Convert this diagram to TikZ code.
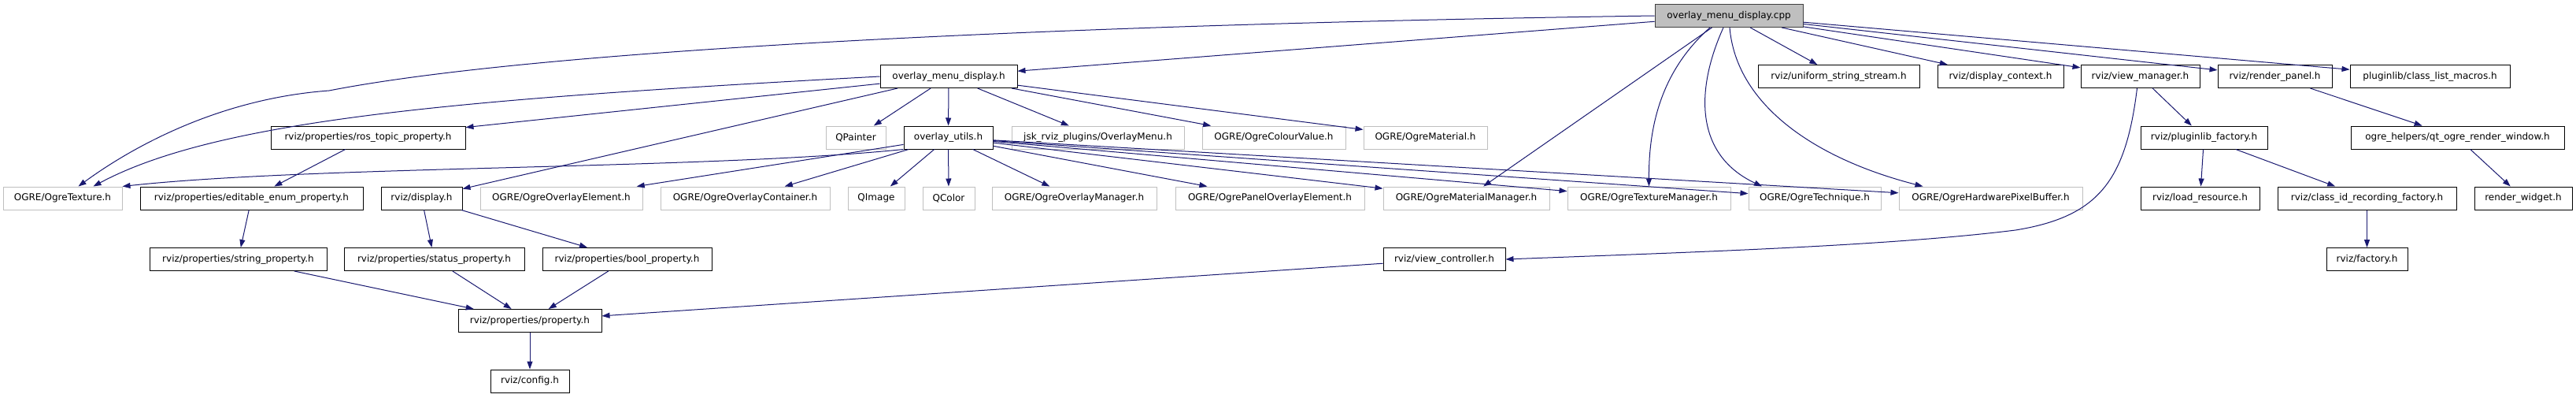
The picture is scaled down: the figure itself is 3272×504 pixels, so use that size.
\documentclass[tikz,border=0pt]{standalone}
\usepackage{fontspec}
\setmainfont{DejaVu Sans}
\usepackage{tikz}
\usetikzlibrary{arrows.meta}
\definecolor{edgeblue}{RGB}{25,25,112}

\begin{document}
\begin{tikzpicture}[x=1pt, y=-1pt,
        file/.style={rectangle, draw=black, line width=1pt, inner sep=0pt, minimum height=29pt, font=\fontsize{12}{14}\selectfont},
        extfile/.style={file, draw=gray!50},
        dep/.style={draw=edgeblue, line width=1pt, -{Triangle[length=10pt, width=7pt]}}]
        \useasboundingbox (0, 0) rectangle (3272, 504);
        % source file
        \node[file, fill=gray!50, draw=black!75, minimum width=188pt] (cpp) at (2196, 20) {overlay\_menu\_display.cpp};
        % row 2
        \node[file, minimum width=174pt] (menuh) at (1205, 97) {overlay\_menu\_display.h};
        \node[file, minimum width=205pt] (uss) at (2335.5, 97) {rviz/uniform\_string\_stream.h};
        \node[file, minimum width=160pt] (dctx) at (2541, 97) {rviz/display\_context.h};
        \node[file, minimum width=151pt] (vmgr) at (2718.5, 97) {rviz/view\_manager.h};
        \node[file, minimum width=145pt] (rpanel) at (2889.5, 97) {rviz/render\_panel.h};
        \node[file, minimum width=203pt] (clm) at (3086.5, 97) {pluginlib/class\_list\_macros.h};
        % row 3
        \node[file, minimum width=247pt] (rtp) at (467.5, 174.5) {rviz/properties/ros\_topic\_property.h};
        \node[extfile, minimum width=76pt] (qpainter) at (1087, 174.5) {QPainter};
        \node[file, minimum width=113pt] (utils) at (1204.5, 174.5) {overlay\_utils.h};
        \node[extfile, minimum width=219pt] (omenu) at (1394.5, 174.5) {jsk\_rviz\_plugins/OverlayMenu.h};
        \node[extfile, minimum width=182pt] (colval) at (1618, 174.5) {OGRE/OgreColourValue.h};
        \node[extfile, minimum width=157pt] (mat) at (1810.5, 174.5) {OGRE/OgreMaterial.h};
        \node[file, minimum width=161pt] (plfac) at (2799.5, 174.5) {rviz/pluginlib\_factory.h};
        \node[file, minimum width=271pt] (qorw) at (3121.5, 174.5) {ogre\_helpers/qt\_ogre\_render\_window.h};
        % row 4
        \node[extfile, minimum width=151pt] (tex) at (79.5, 251.5) {OGRE/OgreTexture.h};
        \node[file, minimum width=283pt] (eep) at (319.5, 251.5) {rviz/properties/editable\_enum\_property.h};
        \node[file, minimum width=103pt] (disp) at (535.5, 251.5) {rviz/display.h};
        \node[extfile, minimum width=206pt] (oel) at (713, 251.5) {OGRE/OgreOverlayElement.h};
        \node[extfile, minimum width=215pt] (ocont) at (946.5, 251.5) {OGRE/OgreOverlayContainer.h};
        \node[extfile, minimum width=72pt] (qimage) at (1113, 251.5) {QImage};
        \node[extfile, minimum width=66pt] (qcolor) at (1205, 251.5) {QColor};
        \node[extfile, minimum width=209pt] (omgr) at (1364.5, 251.5) {OGRE/OgreOverlayManager.h};
        \node[extfile, minimum width=240pt] (poe) at (1613, 251.5) {OGRE/OgrePanelOverlayElement.h};
        \node[extfile, minimum width=211pt] (matmgr) at (1862.5, 251.5) {OGRE/OgreMaterialManager.h};
        \node[extfile, minimum width=207pt] (texmgr) at (2094.5, 251.5) {OGRE/OgreTextureManager.h};
        \node[extfile, minimum width=168pt] (tech) at (2305, 251.5) {OGRE/OgreTechnique.h};
        \node[extfile, minimum width=233pt] (hpb) at (2528.5, 251.5) {OGRE/OgreHardwarePixelBuffer.h};
        \node[file, minimum width=151pt] (lres) at (2794.5, 251.5) {rviz/load\_resource.h};
        \node[file, minimum width=227pt] (cirf) at (3006.5, 251.5) {rviz/class\_id\_recording\_factory.h};
        \node[file, minimum width=124pt] (rwidget) at (3205, 251.5) {render\_widget.h};
        % row 5
        \node[file, minimum width=225pt] (strp) at (302.5, 329) {rviz/properties/string\_property.h};
        \node[file, minimum width=229pt] (statp) at (551.5, 329) {rviz/properties/status\_property.h};
        \node[file, minimum width=215pt] (boolp) at (796.5, 329) {rviz/properties/bool\_property.h};
        \node[file, minimum width=155pt] (vctrl) at (1834.5, 329) {rviz/view\_controller.h};
        \node[file, minimum width=103pt] (fac) at (3006.5, 329) {rviz/factory.h};
        % rows 6 and 7
        \node[file, minimum width=182pt] (prop) at (673, 407) {rviz/properties/property.h};
        \node[file, minimum width=100pt] (cfg) at (673, 483.5) {rviz/config.h};
        % includes of the source file
        \draw[dep] (cpp) -- (menuh);
        \draw[dep] (cpp.west) .. controls (1400, 30) and (700, 60) .. (418, 115) .. controls (280, 125) and (170, 185) .. ([xshift=20pt]tex.north);
        \draw[dep] (cpp) -- (uss);
        \draw[dep] (cpp) -- (dctx);
        \draw[dep] (cpp) -- (vmgr);
        \draw[dep] (cpp) -- (rpanel);
        \draw[dep] (cpp) -- (clm);
        \draw[dep] (cpp) -- (matmgr);
        \draw[dep] ([xshift=-24pt]cpp.south) .. controls (2110, 90) and (2094, 160) .. (texmgr.north);
        \draw[dep] ([xshift=-7pt]cpp.south) .. controls (2155, 110) and (2150, 195) .. ([xshift=-67pt]tech.north);
        \draw[dep] ([xshift=1pt]cpp.south) .. controls (2205, 130) and (2300, 200) .. ([xshift=-86pt]hpb.north);
        % overlay_menu_display.h
        \draw[dep] (menuh.west) .. controls (600, 125) and (280, 150) .. ([xshift=39pt]tex.north);
        \draw[dep] (menuh) -- (rtp);
        \draw[dep] (menuh) -- (disp);
        \draw[dep] (menuh) -- (qpainter);
        \draw[dep] (menuh) -- (utils);
        \draw[dep] (menuh) -- (omenu);
        \draw[dep] (menuh) -- (colval);
        \draw[dep] (menuh) -- (mat);
        % overlay_utils.h
        \draw[dep] (utils.south west) .. controls (900, 215) and (400, 210) .. (tex.north east);
        \draw[dep] (utils) -- (oel);
        \draw[dep] (utils) -- (ocont);
        \draw[dep] (utils) -- (qimage);
        \draw[dep] (utils) -- (qcolor);
        \draw[dep] (utils) -- (omgr);
        \draw[dep] (utils) -- (poe);
        \draw[dep] (utils) -- (matmgr);
        \draw[dep] (utils) -- (texmgr);
        \draw[dep] (utils) -- (tech);
        \draw[dep] (utils) -- (hpb);
        % properties
        \draw[dep] (rtp) -- (eep);
        \draw[dep] (eep) -- (strp);
        \draw[dep] (disp) -- (statp);
        \draw[dep] (disp) -- (boolp);
        \draw[dep] (strp) -- (prop);
        \draw[dep] (statp) -- (prop);
        \draw[dep] (boolp) -- (prop);
        \draw[dep] (vctrl) -- (prop);
        \draw[dep] (prop) -- (cfg);
        % view manager and render panel
        \draw[dep] ([xshift=-4pt]vmgr.south) .. controls (2700, 230) and (2665, 275) .. (2560, 292) .. controls (2400, 312) and (2150, 320) .. (vctrl.east);
        \draw[dep] (vmgr) -- (plfac);
        \draw[dep] (plfac) -- (lres);
        \draw[dep] (plfac) -- (cirf);
        \draw[dep] (cirf) -- (fac);
        \draw[dep] (rpanel) -- (qorw);
        \draw[dep] (qorw) -- (rwidget);
    \end{tikzpicture}
\end{document}
